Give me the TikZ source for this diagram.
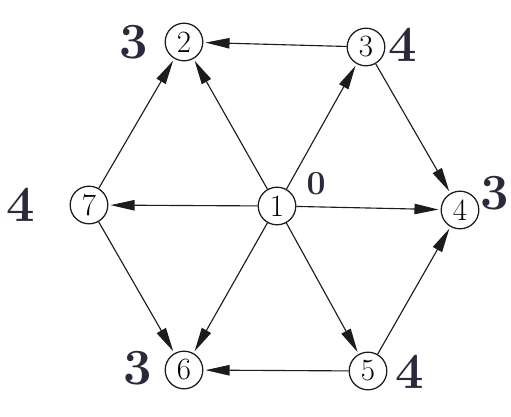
\documentclass[tikz,border=0pt]{standalone}
\usepackage{tikz}
\usetikzlibrary{arrows.meta,positioning}
\definecolor{InkDark}{HTML}{1C1C1C}
\definecolor{PenBlue}{HTML}{2A2A3C}
\tikzset{
  vertex/.style={draw=InkDark,circle,minimum size=9.4mm,inner sep=0pt,line width=0.9pt,font=\fontsize{22}{24}\selectfont,fill=white},
  arc/.style={-{Triangle[length=6mm,width=2.6mm]},line width=0.8pt,draw=InkDark,shorten >=1.5pt},
  handnum/.style={font=\fontsize{36}{38}\selectfont\bfseries,text=PenBlue},
  smallhand/.style={handnum,font=\fontsize{24}{26}\selectfont\bfseries}
}

\begin{document}
\begin{tikzpicture}[x=0.025cm,y=-0.025cm]
\useasboundingbox[fill=white] (0,0) rectangle (511,416);
% vertices
\node[vertex] (v1) at (277,206) {1};
\node[vertex] (v2) at (184,42) {2};
\node[vertex] (v3) at (366,47) {3};
\node[vertex] (v4) at (460,210) {4};
\node[vertex] (v5) at (368,371) {5};
\node[vertex] (v6) at (184,370) {6};
\node[vertex] (v7) at (89,205) {7};
% arcs out of 1
\foreach \t in {2,3,4,5,6,7}
  \draw[arc] (v1) -- (v\t);
% outer arcs
\draw[arc] (v3) -- (v2);
\draw[arc] (v3) -- (v4);
\draw[arc] (v5) -- (v4);
\draw[arc] (v5) -- (v6);
\draw[arc] (v7) -- (v2);
\draw[arc] (v7) -- (v6);
% handwritten values
\node[smallhand] (h1) at (316,184) {0};
\node[handnum] (h2) at (134,42) {3};
\node[handnum] (h3) at (403,45) {4};
\node[handnum] (h4) at (495,193) {3};
\node[handnum] (h5) at (410,372) {4};
\node[handnum] (h6) at (138,368) {3};
\node[handnum] (h7) at (21,205) {4};
\end{tikzpicture}
\end{document}
